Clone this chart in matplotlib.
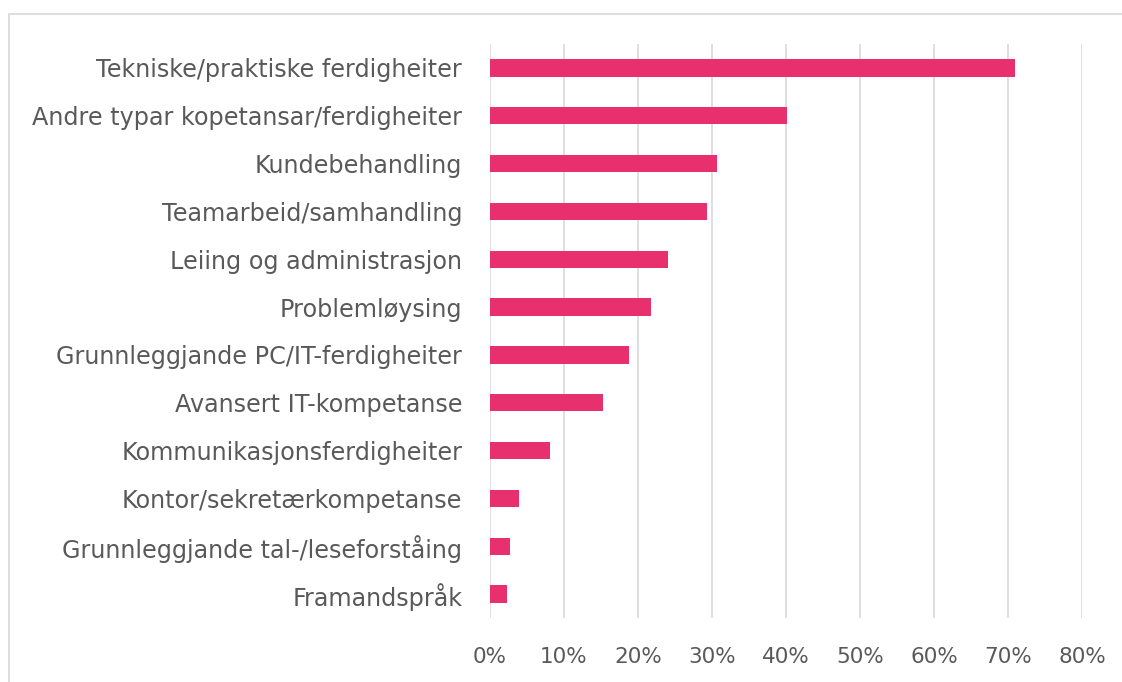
import matplotlib
matplotlib.use("Agg")
import matplotlib.pyplot as plt
from matplotlib.patches import Rectangle
from matplotlib.ticker import FuncFormatter

categories = [
    "Tekniske/praktiske ferdigheiter",
    "Andre typar kopetansar/ferdigheiter",
    "Kundebehandling",
    "Teamarbeid/samhandling",
    "Leiing og administrasjon",
    "Problemløysing",
    "Grunnleggjande PC/IT-ferdigheiter",
    "Avansert IT-kompetanse",
    "Kommunikasjonsferdigheiter",
    "Kontor/sekretærkompetanse",
    "Grunnleggjande tal-/leseforståing",
    "Framandspråk",
]
values = [70.9, 40.1, 30.7, 29.3, 24.1, 21.7, 18.8, 15.3, 8.1, 3.9, 2.7, 2.3]
xticks = [0, 10, 20, 30, 40, 50, 60, 70, 80]

BAR = "#E8306F"
GRID = "#D9D9D9"
TXT = "#595959"
plt.rcParams['font.family'] = ['DejaVu Sans']

W, H = 1122, 682
fig = plt.figure(figsize=(W/100, H/100), dpi=100)
ax = fig.add_axes([490/W, 1-618/H, (1082-490)/W, (618-44)/H])

y = list(range(len(categories)))
ax.barh(y, values, height=0.36, color=BAR, zorder=3)
ax.set_ylim(len(categories)-0.5, -0.5)
ax.set_xlim(0, 80)
ax.set_xticks(xticks)
ax.xaxis.set_major_formatter(FuncFormatter(lambda v, p: f"{int(v)}%"))
ax.set_yticks(y)
ax.set_yticklabels(categories)
ax.grid(axis='x', color=GRID, linewidth=1.2, zorder=0)
ax.grid(axis='y', visible=False)
for s in ax.spines.values():
    s.set_visible(False)
ax.tick_params(axis='both', length=0, colors=TXT)
ax.tick_params(axis='y', pad=20, labelsize=17.2)
ax.tick_params(axis='x', pad=21, labelsize=15.5)

fig.patches.append(Rectangle((9/W, -0.1), 1.2, (H-14)/H + 0.1, transform=fig.transFigure,
                             fill=False, edgecolor=GRID, linewidth=1.2))
fig.savefig("out.png", dpi=100)
